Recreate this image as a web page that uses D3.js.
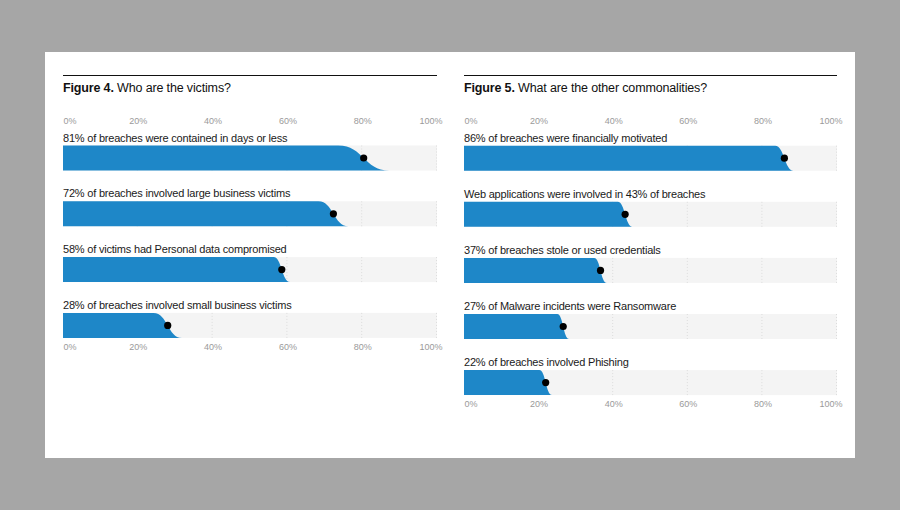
<!DOCTYPE html>
<html><head><meta charset="utf-8">
<script src="https://cdn.jsdelivr.net/npm/d3@7"></script>
<style>
html,body{margin:0;padding:0;background:#a6a6a6;}
svg{display:block;font-family:"Liberation Sans",Arial,sans-serif;}
</style></head>
<body>
<svg id="c" width="900" height="510"></svg>
<script>
// ---- data ----
const ticks = [0, 20, 40, 60, 80, 100];
const tickLabels = ["0%", "20%", "40%", "60%", "80%", "100%"];

const leftTitleBold = "Figure 4.";
const leftTitle = "Who are the victims?";
const leftLabels = [
  "81% of breaches were contained in days or less",
  "72% of breaches involved large business victims",
  "58% of victims had Personal data compromised",
  "28% of breaches involved small business victims"
];
const leftValues = [80.4, 72.3, 58.5, 28.0];
const leftSpread = [6.8, 4.0, 2.2, 3.8];

const rightTitleBold = "Figure 5.";
const rightTitle = "What are the other commonalities?";
const rightLabels = [
  "86% of breaches were financially motivated",
  "Web applications were involved in 43% of breaches",
  "37% of breaches stole or used credentials",
  "27% of Malware incidents were Ransomware",
  "22% of breaches involved Phishing"
];
const rightValues = [85.9, 43.2, 36.6, 26.6, 21.9];
const rightSpread = [2.5, 2.0, 1.7, 1.6, 1.7];

// ---- drawing ----
const svg = d3.select("#c");
svg.append("rect").attr("x", 45).attr("y", 52).attr("width", 810).attr("height", 406).attr("fill", "#fff");

const BLUE = "#1e87c8";

function panel(cfg) {
  const g = svg.append("g");
  const x = d3.scaleLinear().domain([0, 100]).range([cfg.x0, cfg.x1]);
  const n = cfg.values.length;
  const y = d3.scaleLinear().domain([0, 1]).range([cfg.top, cfg.top + cfg.step]);
  const h = 25;

  // top rule
  g.append("line").attr("x1", cfg.x0).attr("x2", cfg.x1).attr("y1", 75.5).attr("y2", 75.5)
    .attr("stroke", "#111").attr("stroke-width", 1.2);

  // title
  const t = g.append("text").attr("x", cfg.x0).attr("y", 91.5)
    .attr("font-size", 12.5).attr("fill", "#111").attr("letter-spacing", -0.15);
  t.append("tspan").attr("font-weight", "bold").text(cfg.titleBold + " ");
  t.append("tspan").text(cfg.title);

  // axes
  function axis(yy) {
    const ax = d3.axisTop(x).tickValues(ticks).tickSize(0)
      .tickFormat((d, i) => tickLabels[i]);
    const ag = g.append("g").attr("transform", `translate(0,${yy})`).call(ax);
    ag.select(".domain").remove();
    ag.selectAll("text").attr("font-size", 9).attr("fill", "#9a9a9a")
      .attr("font-family", "Liberation Sans, Arial, sans-serif")
      .attr("text-anchor", (d, i) => i === 0 ? "start" : (i === ticks.length - 1 ? "end" : "middle"))
      .attr("dx", (d, i) => i === ticks.length - 1 ? 5 : 0);
  }
  axis(126.5);
  axis(y(n - 1) + h + 15);

  cfg.values.forEach((v, i) => {
    const top = y(i), bot = top + h, mid = top + h / 2;
    // label
    g.append("text").attr("x", cfg.x0).attr("y", top - 4)
      .attr("font-size", 11).attr("fill", "#1a1a1a").attr("letter-spacing", -0.2)
      .text(cfg.labels[i]);
    // track
    g.append("rect").attr("x", x(0)).attr("y", top).attr("width", x(100) - x(0)).attr("height", h)
      .attr("fill", "#f4f4f4");
    // gridlines
    ticks.slice(1).forEach(tk => {
      g.append("line").attr("x1", x(tk) - 0.5).attr("x2", x(tk) - 0.5).attr("y1", top).attr("y2", bot)
        .attr("stroke", "#dcdcdc").attr("stroke-width", 1).attr("stroke-dasharray", "1,2");
    });
    // bar with S-curve end
    const a = x(v - cfg.spread[i]), b = x(v + cfg.spread[i]), c = x(v);
    const p = d3.path();
    p.moveTo(x(0), top);
    p.lineTo(a, top);
    p.bezierCurveTo(c, top, c, bot, b, bot);
    p.lineTo(x(0), bot);
    p.closePath();
    g.append("path").attr("d", p.toString()).attr("fill", BLUE);
    // dot
    g.append("circle").attr("cx", c).attr("cy", mid).attr("r", 3.6).attr("fill", "#000");
  });
}

panel({x0: 63, x1: 437, top: 145.5, step: 55.8, values: leftValues, spread: leftSpread,
  labels: leftLabels, titleBold: leftTitleBold, title: leftTitle});
panel({x0: 464, x1: 837, top: 145.7, step: 56.1, values: rightValues, spread: rightSpread,
  labels: rightLabels, titleBold: rightTitleBold, title: rightTitle});
</script>
</body></html>
